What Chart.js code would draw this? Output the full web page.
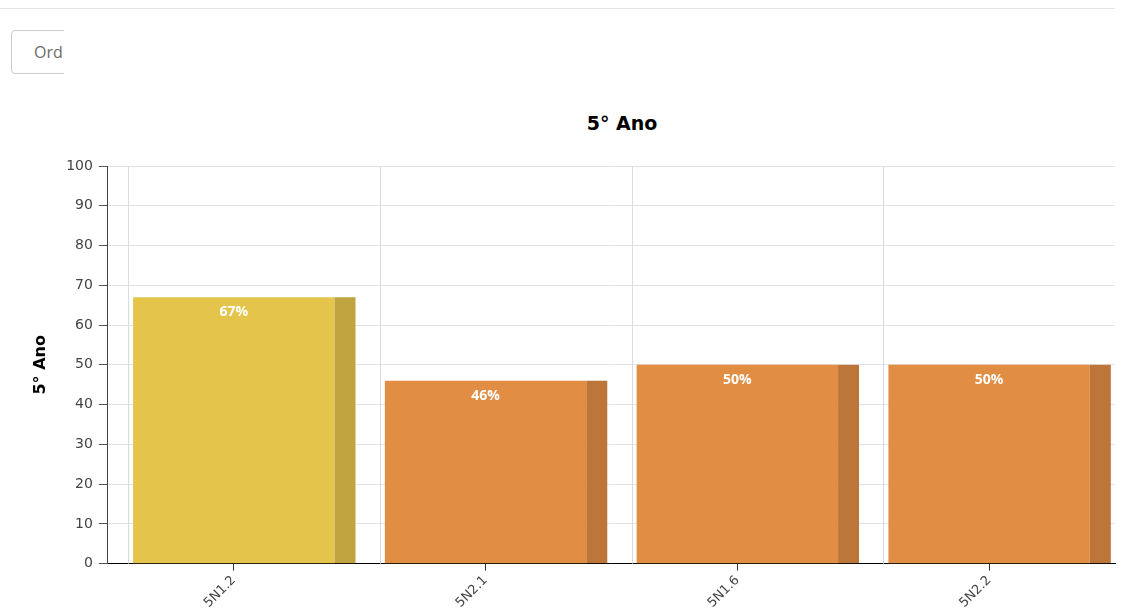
<!DOCTYPE html>
<html>
<head>
<meta charset="utf-8">
<script src="https://cdn.jsdelivr.net/npm/chart.js@4"></script>
<style>
  html, body { margin: 0; padding: 0; background: #fff; overflow: hidden; }
  body { width: 1130px; height: 610px; position: relative; font-family: "Open Sans", sans-serif; }
  .rule { position: absolute; left: 0; top: 8px; width: 1115px; border-top: 1px solid #e5e5e5; }
  .clip { position: absolute; left: 11px; top: 30px; width: 53px; height: 46px; overflow: hidden; }
  .btn {
    position: absolute; left: 0; top: 0; width: 120px; height: 44px;
    border: 1px solid #ccc; border-radius: 4px; background: #fff;
    color: #6b6b6b; font-size: 16px; line-height: 42px; padding-left: 22px; box-sizing: border-box;
  }
  .title {
    position: absolute; left: 522px; top: 112px; width: 200px; text-align: center;
    font-family: "DejaVu Sans", sans-serif; font-weight: bold; font-size: 19px; color: #000;
  }
  .wrap { position: absolute; left: 0; top: 100px; width: 1130px; height: 520px; }
</style>
</head>
<body>
<div class="rule"></div>
<div class="clip"><div class="btn">Ord</div></div>
<div class="title">5° Ano</div>
<div class="wrap"><canvas id="anoChart"></canvas></div>
<script>
/* data */
var CATEGORIES = ['5N1.2', '5N2.1', '5N1.6', '5N2.2'];
var VALUES     = [67, 46, 50, 50];
var FRONT      = ['#E4C44A', '#E28D44', '#E28D44', '#E28D44'];
var SIDE       = ['#BFA43F', '#BD763A', '#BD763A', '#BD763A'];

var DEPTH = 21;

// vertical grid + darker right side strip + value labels
var barDecor = {
  id: 'barDecor',
  beforeDatasetsDraw: function (chart) {
    var ctx = chart.ctx, area = chart.chartArea;
    var meta = chart.getDatasetMeta(0);
    ctx.save();
    ctx.strokeStyle = '#dcdcdc';
    ctx.lineWidth = 1;
    meta.data.forEach(function (bar) {
      var x = Math.round(bar.x - bar.width / 2 - 5) + 0.5;
      ctx.beginPath();
      ctx.moveTo(x, area.top);
      ctx.lineTo(x, area.bottom);
      ctx.stroke();
    });
    ctx.restore();
  },
  afterDatasetsDraw: function (chart) {
    var ctx = chart.ctx;
    var meta = chart.getDatasetMeta(0);
    ctx.save();
    meta.data.forEach(function (bar, i) {
      var right = bar.x + bar.width / 2;
      ctx.fillStyle = SIDE[i];
      ctx.fillRect(right, bar.y, DEPTH, bar.base - bar.y);
      ctx.fillStyle = '#ffffff';
      ctx.font = 'bold 14px "Open Sans", sans-serif';
      ctx.textAlign = 'center';
      ctx.textBaseline = 'middle';
      ctx.fillText(VALUES[i] + '%', bar.x, bar.y + 15);
    });
    ctx.restore();
  }
};

new Chart(document.getElementById('anoChart'), {
  type: 'bar',
  data: {
    labels: CATEGORIES,
    datasets: [{
      data: VALUES,
      backgroundColor: FRONT,
      borderWidth: 0,
      barPercentage: 1,
      categoryPercentage: 0.8
    }]
  },
  options: {
    responsive: true,
    maintainAspectRatio: false,
    animation: false,
    layout: { padding: { left: 31, right: 15, top: 66, bottom: 7 } },
    plugins: {
      legend: { display: false },
      tooltip: { enabled: false },
      title: { display: false }
    },
    scales: {
      x: {
        grid: { display: true, drawOnChartArea: false, offset: false, tickLength: 7, tickColor: '#333' },
        border: { display: true, color: '#000', width: 1 },
        ticks: {
          color: '#444',
          font: { size: 13, family: '"DejaVu Sans", sans-serif' },
          maxRotation: 45,
          minRotation: 45,
          padding: 2
        }
      },
      y: {
        min: 0,
        max: 100,
        grid: { color: '#e3e3e3', tickLength: 9, tickColor: '#555' },
        border: { display: true, color: '#444', width: 1 },
        ticks: {
          stepSize: 10,
          color: '#444',
          font: { size: 14, family: '"DejaVu Sans", sans-serif' },
          padding: 6
        },
        title: {
          display: true,
          text: '5° Ano',
          color: '#000',
          font: { size: 16, weight: 'bold', family: '"DejaVu Sans", sans-serif' },
          padding: { top: 0, bottom: 10 }
        }
      }
    }
  },
  plugins: [barDecor]
});
</script>
</body>
</html>
